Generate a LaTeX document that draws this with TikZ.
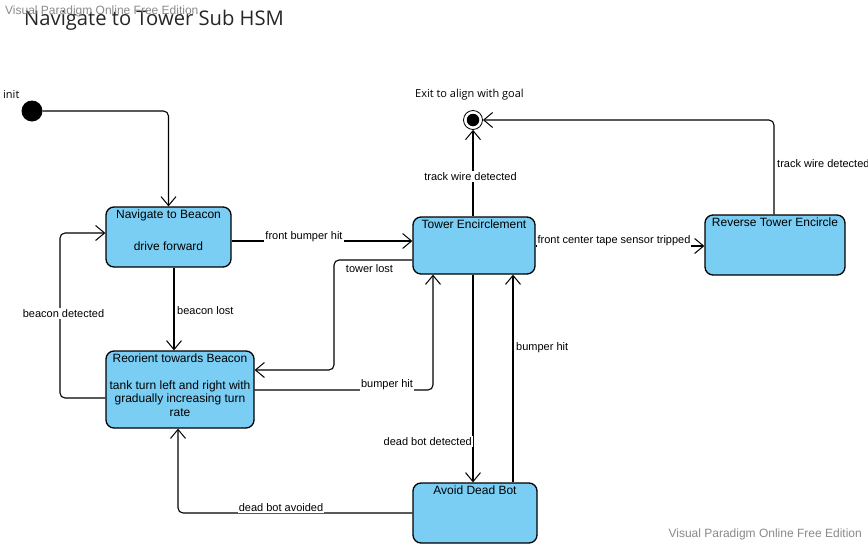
\documentclass[tikz,border=0pt]{standalone}
\usepackage{fontspec}
\setmainfont{Liberation Sans}
\newfontfamily\opensans{Open Sans}
\usetikzlibrary{arrows.meta,calc}
\definecolor{statefill}{HTML}{7ACEF4}
\definecolor{wmgray}{HTML}{8A8A8A}
\tikzset{
  statebox/.style={draw=black, line width=1.3pt, fill=statefill, rounded corners=8pt, inner sep=0pt},
  stext/.style={anchor=north, align=center, inner sep=2pt, yshift=-1pt, font=\fontsize{12}{13.5}\selectfont},
  conn/.style={draw=black, line width=1.1pt, rounded corners=5pt, -{Straight Barb[length=9pt,width=15pt,line width=1pt]}},
  lbl/.style={fill=white, inner sep=1pt, yshift=-1.5pt, font=\fontsize{11}{13}\selectfont},
  wmark/.style={text=wmgray, inner sep=0pt, font=\fontsize{12}{14}\selectfont},
  osl/.style={inner sep=0pt, yshift=-1.5pt, font=\opensans\fontsize{11}{13}\selectfont},
}
\begin{document}
\begin{tikzpicture}[x=1pt,y=-1pt]
\useasboundingbox (0,0) rectangle (868,544);
\fill[white] (0,0) rectangle (868,544);

% title and watermarks
\node[inner sep=0pt, anchor=west, font=\opensans\fontsize{20.2}{23}\selectfont, text=black!85] (title) at (24,20.5) {Navigate to Tower Sub HSM};
\node[wmark, anchor=west] (wm1) at (5,11) {Visual Paradigm Online Free Edition};
\node[wmark, anchor=east] (wm2) at (862,534) {Visual Paradigm Online Free Edition};

% pseudo states
\node[circle, fill=black, minimum size=21pt, inner sep=0pt] (init) at (32,111) {};
\node[osl, anchor=west] (initlbl) at (3,93) {init};
\node[circle, draw=black, line width=0.8pt, fill=white, minimum size=19pt, inner sep=0pt] (fin) at (473,120) {};
\node[circle, fill=black, minimum size=12.5pt, inner sep=0pt] (fincore) at (fin.center) {};
\node[osl, anchor=west] (finlbl) at (415,93) {Exit to align with goal};

% states
\node[statebox, minimum width=125pt, minimum height=60pt] (nav) at (168.5,237) {};
\node[stext] (navt) at (nav.north) {Navigate to Beacon\\[5pt] \\ drive forward};

\node[statebox, minimum width=148pt, minimum height=77pt] (reo) at (180,389.5) {};
\node[stext] (reot) at (reo.north) {Reorient towards Beacon\\ \\ tank turn left and right with\\ gradually increasing turn\\ rate};

\node[statebox, minimum width=122pt, minimum height=57pt] (tow) at (474,245.5) {};
\node[stext] (towt) at (tow.north) {Tower Encirclement};

\node[statebox, minimum width=140pt, minimum height=60pt] (rev) at (775,245) {};
\node[stext] (revt) at (rev.north) {Reverse Tower Encircle};

\node[statebox, minimum width=124pt, minimum height=60pt] (avd) at (475,513) {};
\node[stext] (avdt) at (avd.north) {Avoid Dead Bot};

% transitions
\draw[conn] (init.east) -| (nav.north);

\draw[conn] (nav.east |- 0,241) -- (tow.west |- 0,241);
\node[lbl] (l1) at (304,235) {front bumper hit};

\draw[conn] (nav.south -| 174,0) -- (reo.north -| 174,0);
\node[lbl, anchor=west] (l2) at (176,309) {beacon lost};

\draw[conn] (reo.west |- 0,398) -- (60,398) -- (60,233) -- (nav.west |- 0,233);
\node[lbl] (l3) at (63.5,312) {beacon detected};

\draw[conn] (tow.west |- 0,260) -- (334,260) -- (334,370) -- (reo.east |- 0,370);
\node[lbl] (l4) at (369.5,267) {tower lost};

\draw[conn] (reo.east |- 0,390) -- (433,390) -- (tow.south -| 433,0);
\node[lbl] (l5) at (387,383) {bumper hit};

\draw[conn] (tow.north -| 473,0) -- (fin.south);
\node[lbl] (l6) at (470.5,175) {track wire detected};

\draw[conn] (tow.east |- 0,246) -- (rev.west |- 0,246);
\node[lbl] (l7) at (614,239) {front center tape sensor tripped};

\draw[conn] (rev.north -| 774,0) -- (774,120) -- (fin.east);
\node[lbl, anchor=west] (l8) at (776,162) {track wire detected};

\draw[conn] (tow.south -| 473,0) -- (avd.north -| 473,0);
\node[lbl, anchor=east] (l9) at (473,440) {dead bot detected};

\draw[conn] (avd.north -| 513,0) -- (tow.south -| 513,0);
\node[lbl, anchor=west] (l10) at (515,346) {bumper hit};

\draw[conn] (avd.west |- 0,513) -- (178,513) -- (reo.south -| 178,0);
\node[lbl] (l11) at (281,506) {dead bot avoided};
\end{tikzpicture}
\end{document}
